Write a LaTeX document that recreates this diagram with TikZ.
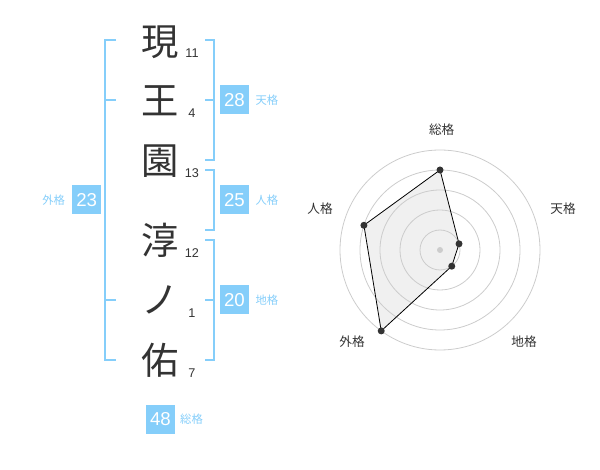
\documentclass[tikz,border=0pt]{standalone}
\usepackage{fontspec}
\setmainfont{Liberation Sans}
\newfontfamily\jp{Noto Sans CJK JP}
\usetikzlibrary{positioning}
\definecolor{sky}{HTML}{85CEFA}
\definecolor{ink}{HTML}{333333}
\tikzset{kan/.style={font=\jp\fontsize{28}{28}\selectfont,text=ink,inner sep=0pt},num/.style={font=\fontsize{9.5}{9.5}\selectfont,text=ink,inner sep=0pt},
box/.style={fill=sky,text=white,minimum size=21.75pt,inner sep=0pt,font=\fontsize{14}{14}\selectfont},lab/.style={font=\jp\fontsize{8.5}{8.5}\selectfont,text=sky,inner sep=0pt},
brk/.style={draw=sky,line width=1.5pt},ring/.style={draw=gray!40,line width=0.6pt},web/.style={draw=black,line width=0.6pt},rl/.style={font=\jp\fontsize{9.5}{9.5}\selectfont,text=ink}}

\begin{document}
\begin{tikzpicture}[x=0.75pt,y=-0.75pt]
\useasboundingbox(0,0)rectangle(600,470);
\node[kan](k1)at(160,42){現};\node[kan](k2)at(160,101){王};\node[kan](k3)at(160,161){園};
\node[kan](k4)at(160,240){淳};\node[kan](k5)at(160,300){ノ};\node[kan](k6)at(160,360){佑};
\node[num](n1)at(192,53){11};\node[num](n2)at(192,113){4};\node[num](n3)at(192,173){13};
\node[num](n4)at(192,253){12};\node[num](n5)at(192,313){1};\node[num](n6)at(192,373){7};
\draw[brk](116,40)-|(105,360)--(116,360);\draw[brk](105,100)--(116,100);\draw[brk](105,300)--(116,300);
\draw[brk](205,40)-|(214,160)--(205,160);\draw[brk](205,100)--(214,100);
\draw[brk](205,170)-|(214,230)--(205,230);
\draw[brk](205,240)-|(214,360)--(205,360);\draw[brk](205,300)--(214,300);
\node[box](ten)at(234.5,100){28};\node[lab,right=4.5pt of ten](tenl){天格};
\node[box](jin)at(234.5,200){25};\node[lab,right=4.5pt of jin](jinl){人格};
\node[box](chi)at(234.5,300){20};\node[lab,right=4.5pt of chi](chil){地格};
\node[box](gai)at(86.7,200){23};\node[lab,left=5pt of gai](gail){外格};
\node[box](sou)at(160.5,419){48};\node[lab,right=3.5pt of sou](soul){総格};
\begin{scope}[shift={(440,250)},yscale=-1]
\coordinate(T)at(90:80);\coordinate(H)at(18:20);\coordinate(C)at(-54:20);\coordinate(G)at(234:100);\coordinate(J)at(162:80);
\fill[gray!12](T)--(H)--(C)--(G)--(J)--cycle;
\foreach \r in {20,40,60,80,100}\draw[ring](0,0)circle(\r);
\fill[gray!40](0,0)circle(3);
\draw[web](T)--(H)--(C)--(G)--(J)--cycle;
\foreach \p in {T,H,C,G,J}\fill[ink](\p)circle(3.5);
\node[rl](rT)at(1.7,120){総格};\node[rl](rH)at(123,41){天格};\node[rl](rC)at(84,-92){地格};
\node[rl](rG)at(-88,-92){外格};\node[rl](rJ)at(-120,41){人格};
\end{scope}
\end{tikzpicture}
\end{document}
